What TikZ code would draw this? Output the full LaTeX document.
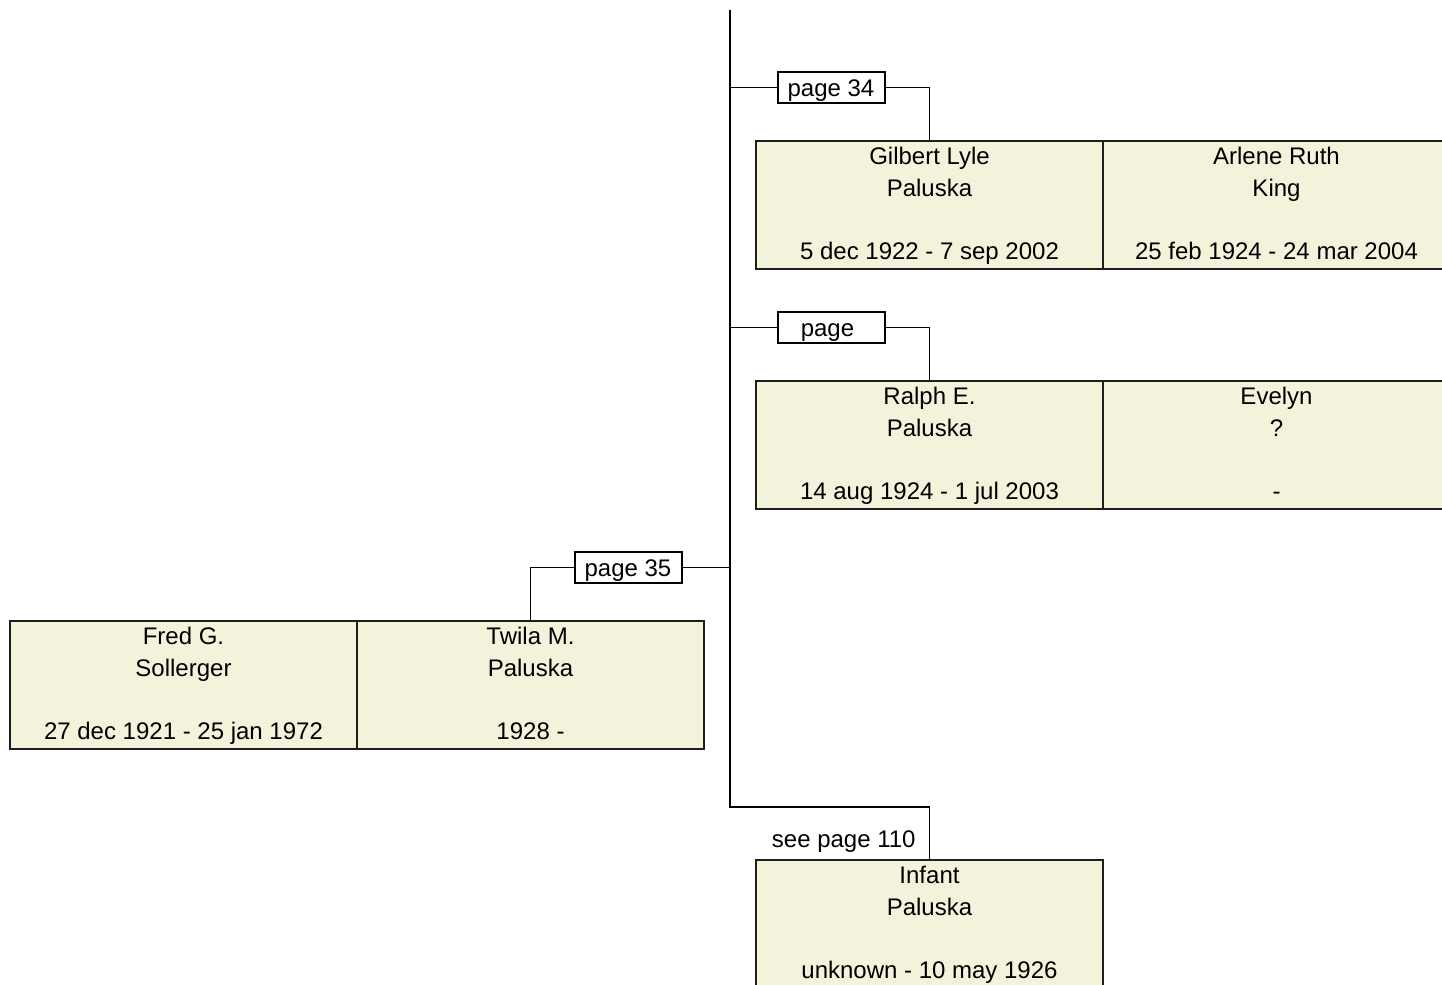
\documentclass[tikz,border=0pt]{standalone}
\usepackage{fontspec}
\setmainfont{Liberation Sans}
\definecolor{boxfill}{RGB}{243,243,220}
\definecolor{boxline}{RGB}{30,30,30}
\newcommand\pbox[6]{%
  \node[personbox] (#1) at (#2,#3) {};
  \node[persontext] (#1a) at ([yshift=-11.8pt]#1.north) {#4};
  \node[persontext] (#1b) at ([yshift=-27.6pt]#1.north) {#5};
  \node[persontext] (#1c) at ([yshift=-59.4pt]#1.north) {#6};
}
\begin{document}
\begin{tikzpicture}[x=0.5pt,y=-0.5pt,
  personbox/.style={draw=boxline,fill=boxfill,line width=1pt,anchor=north west,
    minimum width=173.5pt,minimum height=64pt,inner sep=0pt,outer sep=0pt},
  persontext/.style={anchor=base,inner sep=0pt,font=\fontsize{12}{14}\selectfont},
  pagebox/.style={draw=black,fill=white,line width=0.9pt,minimum width=53.5pt,
    minimum height=15.5pt,inner sep=0pt,font=\fontsize{12}{14}\selectfont},
  pagetext/.style={anchor=base,inner sep=0pt,font=\fontsize{12}{14}\selectfont},
  conn/.style={draw=black,line width=0.9pt}]
\useasboundingbox (0,0) rectangle (1442,985);
\clip (0,0) rectangle (1442,985);

% person boxes
\pbox{gil}{756}{141}{Gilbert Lyle}{Paluska}{5 dec 1922 - 7 sep 2002}
\pbox{arl}{1103}{141}{Arlene Ruth}{King}{25 feb 1924 - 24 mar 2004}
\pbox{ral}{756}{381}{Ralph E.}{Paluska}{14 aug 1924 - 1 jul 2003}
\pbox{eve}{1103}{381}{Evelyn}{?}{-}
\pbox{fred}{10}{621}{Fred G.}{Sollerger}{27 dec 1921 - 25 jan 1972}
\pbox{twi}{357}{621}{Twila M.}{Paluska}{1928 -}
\pbox{inf}{756}{860}{Infant}{Paluska}{unknown - 10 may 1926}

% page labels
\node[pagebox] (p34) at (831.5,87.5) {};
\node[pagetext] (p34t) at (831,96) {page 34};
\node[pagebox] (pg) at (831.5,327.5) {};
\node[pagetext] (pgt) at (827.5,336) {page};
\node[pagebox] (p35) at (628.5,567.5) {};
\node[pagetext] (p35t) at (628,576) {page 35};
\node[anchor=base east,inner sep=0pt,font=\fontsize{12}{14}\selectfont] (see) at (916,847) {see page 110};

% trunk
\coordinate (top) at (730,10);
\coordinate (bot) at (730,807);
\draw[conn] (top) -- (bot) -| (inf.north);

% branches
\draw[conn] (p34.west -| top) -- (p34.west);
\draw[conn] (p34.east) -| (gil.north);
\draw[conn] (pg.west -| top) -- (pg.west);
\draw[conn] (pg.east) -| (ral.north);
\draw[conn] (p35.east) -- (p35.east -| top);
\draw[conn] (p35.west) -| (twi.north);
\end{tikzpicture}
\end{document}
